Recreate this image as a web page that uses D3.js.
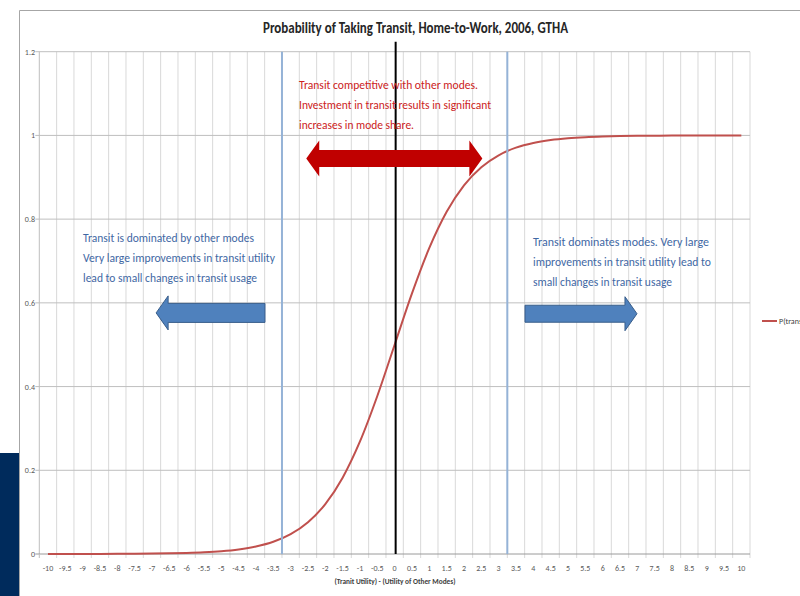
<!DOCTYPE html>
<html>
<head>
<meta charset="utf-8">
<script src="https://cdn.jsdelivr.net/npm/d3@7"></script>
<style>
  body { margin: 0; background: #fff; }
  svg { display: block; }
  text { font-family: "Carlito", "Liberation Sans Narrow", "Open Sans", sans-serif; }
</style>
</head>
<body>
<svg id="chart" width="800" height="596"></svg>
<script>
// category axis (Excel style) and logistic probability
const xValues = [-10, -9.5, -9, -8.5, -8, -7.5, -7, -6.5, -6, -5.5, -5, -4.5, -4, -3.5, -3, -2.5, -2, -1.5, -1, -0.5,
                 0, 0.5, 1, 1.5, 2, 2.5, 3, 3.5, 4, 4.5, 5, 5.5, 6, 6.5, 7, 7.5, 8, 8.5, 9, 9.5, 10]
const pTransit = [0.0000454, 0.0000749, 0.000123, 0.000203, 0.000335, 0.000553, 0.000911, 0.0015, 0.00247, 0.00407,
                  0.00669, 0.011, 0.018, 0.0293, 0.0474, 0.0759, 0.1192, 0.1824, 0.2689, 0.3775,
                  0.5, 0.6225, 0.7311, 0.8176, 0.8808, 0.9241, 0.9526, 0.9707, 0.982, 0.989,
                  0.9933, 0.9959, 0.9975, 0.9985, 0.9991, 0.9994, 0.9997, 0.9998, 0.9999, 0.99993, 0.99995]
const yTicks = [0, 0.2, 0.4, 0.6, 0.8, 1, 1.2]

// hand drawn marker lines on the chart
const boundaryLines = [-3.25, 3.25]
const zeroLine = [0]

const redNote = ["Transit competitive with other modes.",
                 "Investment in transit results in significant",
                 "increases in mode share."]
const leftNote = ["Transit is dominated by other modes",
                  "Very large improvements in transit utility",
                  "lead to small changes in transit usage"]
const rightNote = ["Transit  dominates modes. Very large",
                   "improvements in transit utility lead to",
                   "small changes in transit usage"]

const svg = d3.select('#chart')

// slide frame
svg.append('rect').attr('x', 0).attr('y', 453).attr('width', 19).attr('height', 143).attr('fill', '#002b5c')
svg.append('path').attr('d', 'M19.5,596 V10.5 H800').attr('fill', 'none').attr('stroke', '#a6a6a6')

const plot = { left: 39.3, right: 750, top: 51.7, bottom: 554 }

const x = d3.scaleBand().domain(xValues).range([plot.left, plot.right]).paddingInner(0).paddingOuter(0)
const bw = x.bandwidth()
const xLin = d3.scaleLinear().domain([-10, 10]).range([x(-10) + bw / 2, x(10) + bw / 2])
const y = d3.scaleLinear().domain([0, 1.2]).range([plot.bottom, plot.top])

// vertical grid at category boundaries
const bounds = xValues.map(d => x(d)).concat([plot.right])
svg.append('g').selectAll('line').data(bounds.slice(1)).enter().append('line')
    .attr('x1', d => d).attr('x2', d => d)
    .attr('y1', plot.top).attr('y2', plot.bottom + 4)
    .attr('stroke', '#d9d9d9').attr('stroke-width', 1)

// horizontal grid
svg.append('g').selectAll('line').data(yTicks.slice(1)).enter().append('line')
    .attr('x1', plot.left - 4).attr('x2', plot.right)
    .attr('y1', d => y(d)).attr('y2', d => y(d))
    .attr('stroke', '#bfbfbf').attr('stroke-width', 1)

// axes
svg.append('line').attr('x1', plot.left).attr('x2', plot.left).attr('y1', plot.top).attr('y2', plot.bottom)
    .attr('stroke', '#bfbfbf')
svg.append('line').attr('x1', plot.left - 4).attr('x2', plot.right).attr('y1', plot.bottom).attr('y2', plot.bottom)
    .attr('stroke', '#9a9a9a')
svg.append('line').attr('x1', plot.left).attr('x2', plot.left).attr('y1', plot.bottom).attr('y2', plot.bottom + 4)
    .attr('stroke', '#bfbfbf')

svg.append('g').selectAll('text').data(yTicks).enter().append('text')
    .attr('x', 35).attr('y', d => y(d) + 3)
    .attr('text-anchor', 'end')
    .attr('font-size', 8).attr('fill', '#595959')
    .text(d => d)

svg.append('g').selectAll('text').data(xValues).enter().append('text')
    .attr('x', d => x(d) + bw / 2).attr('y', 571)
    .attr('text-anchor', 'middle')
    .attr('font-size', 8).attr('fill', '#595959')
    .text(d => d)

svg.append('text').attr('x', 395).attr('y', 584).attr('text-anchor', 'middle')
    .attr('font-size', 7.5).attr('font-weight', 'bold').attr('fill', '#404040')
    .attr('textLength', 121).attr('lengthAdjust', 'spacingAndGlyphs')
    .text('(Tranit Utility) - (Utility of Other Modes)')

// title
svg.append('text').attr('x', 415.5).attr('y', 33).attr('text-anchor', 'middle')
    .attr('font-size', 15).attr('font-weight', 'bold').attr('fill', '#262626')
    .attr('textLength', 305).attr('lengthAdjust', 'spacingAndGlyphs')
    .text('Probability of Taking Transit, Home-to-Work, 2006, GTHA')

// curve
const line = d3.line().x((d, i) => x(xValues[i]) + bw / 2).y(d => y(d)).curve(d3.curveMonotoneX)
svg.append('path').datum(pTransit).attr('d', line)
    .attr('fill', 'none').attr('stroke', '#c0504d').attr('stroke-width', 2)

// marker lines
svg.append('g').selectAll('line').data(boundaryLines).enter().append('line')
    .attr('x1', d => xLin(d)).attr('x2', d => xLin(d))
    .attr('y1', plot.top).attr('y2', plot.bottom)
    .attr('stroke', '#95b3d7').attr('stroke-width', 2)
svg.append('g').selectAll('line').data(zeroLine).enter().append('line')
    .attr('x1', d => xLin(d) + 1).attr('x2', d => xLin(d) + 1)
    .attr('y1', plot.top - 10).attr('y2', plot.bottom)
    .attr('stroke', '#000').attr('stroke-width', 2)

// arrows: tip/tail in data units, thickness in px
function arrowPath(x0, x1, yc, shaft, head, headLen, both) {
    // x0 = tail (or left tip if both), x1 = tip
    const dir = x1 > x0 ? 1 : -1
    const s = shaft / 2, h = head / 2
    const b1 = x1 - dir * headLen
    if (both) {
        const b0 = x0 + dir * headLen
        return `M${x0},${yc} L${b0},${yc - h} L${b0},${yc - s} L${b1},${yc - s} L${b1},${yc - h} L${x1},${yc}` +
               ` L${b1},${yc + h} L${b1},${yc + s} L${b0},${yc + s} L${b0},${yc + h} Z`
    }
    return `M${x0},${yc - s} L${b1},${yc - s} L${b1},${yc - h} L${x1},${yc} L${b1},${yc + h} L${b1},${yc + s} L${x0},${yc + s} Z`
}

svg.append('path').attr('d', arrowPath(xLin(-2.55), xLin(2.53), y(0.945), 17, 36, 13, true))
    .attr('fill', '#c00000')
svg.append('path').attr('d', arrowPath(xLin(-3.74), xLin(-6.88), y(0.576), 19, 34, 12, false))
    .attr('fill', '#4f81bd').attr('stroke', '#385d8a').attr('stroke-width', 1)
svg.append('path').attr('d', arrowPath(xLin(3.76), xLin(6.99), y(0.574), 17, 34, 12, false))
    .attr('fill', '#4f81bd').attr('stroke', '#385d8a').attr('stroke-width', 1)

// notes
function note(lines, x0, y0, widths, color) {
    svg.append('g').selectAll('text').data(lines).enter().append('text')
        .attr('x', x0).attr('y', (d, i) => y0 + i * 20)
        .attr('font-size', 13).attr('fill', color)
        .attr('textLength', (d, i) => widths[i]).attr('lengthAdjust', 'spacingAndGlyphs')
        .text(d => d)
}
note(redNote, 299, 89, [179, 192, 115], '#cc2222')
note(leftNote, 83, 242, [171, 192, 174], '#3f68a4')
note(rightNote, 533, 246, [176, 178, 139], '#3f68a4')

// legend (cut by the slide edge)
svg.append('line').attr('x1', 762).attr('x2', 777).attr('y1', 321).attr('y2', 321)
    .attr('stroke', '#c0504d').attr('stroke-width', 2)
svg.append('text').attr('x', 779).attr('y', 324).attr('font-size', 8).attr('fill', '#404040')
    .text('P(transit)')
</script>
</body>
</html>
